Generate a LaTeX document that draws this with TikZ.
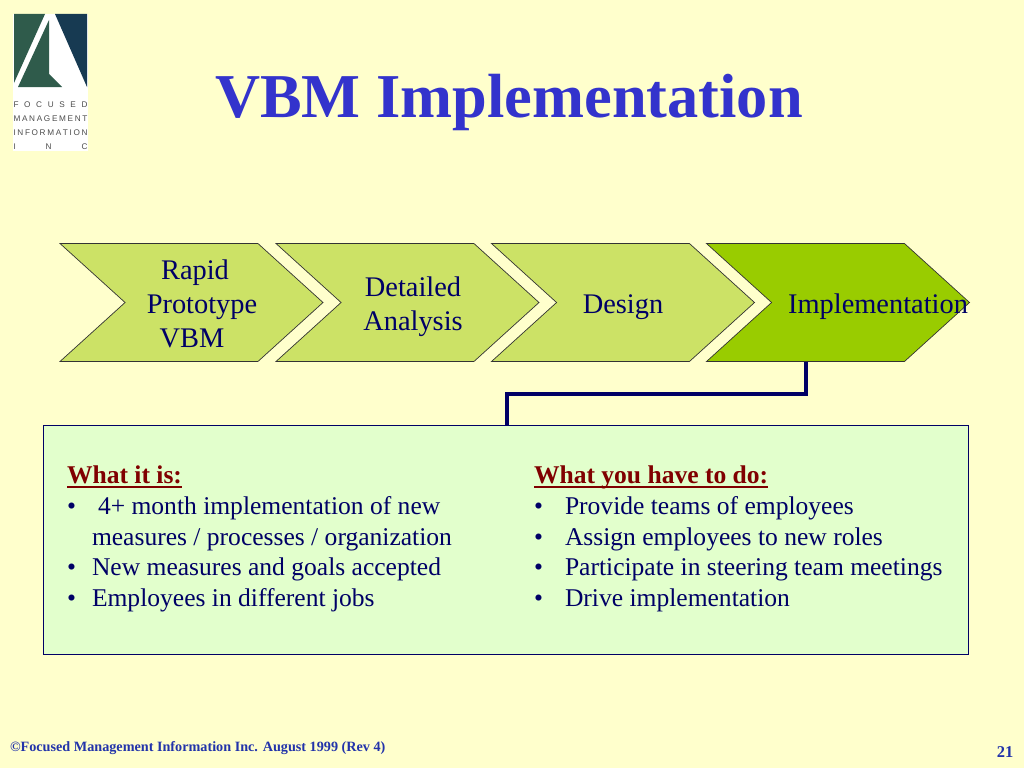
\documentclass[tikz,border=0pt]{standalone}
\usepackage{fontspec}
\setmainfont{Liberation Serif}
\newfontfamily\logofont{Liberation Sans}
\usetikzlibrary{shapes.symbols,positioning}
\definecolor{pagebg}{HTML}{FFFFCC}
\definecolor{stagefill}{HTML}{CCE266}
\definecolor{activefill}{HTML}{99CC00}
\definecolor{panelfill}{HTML}{E2FFCC}
\definecolor{inkblue}{HTML}{000066}
\definecolor{titleblue}{HTML}{3333CC}
\definecolor{footblue}{HTML}{2233AA}
\definecolor{headred}{HTML}{800000}
\definecolor{logogreen}{HTML}{2F5B4B}
\definecolor{logonavy}{HTML}{173A52}
\newcommand{\bodysize}{\fontsize{25.55}{30.7}\selectfont}
\newcommand{\headrule}[1]{\setbox0\hbox{#1}\rlap{#1}\rule[-4.5pt]{\wd0}{1.8pt}}
\newcommand{\logospread}[1]{\makebox[74pt][s]{#1}}

\begin{document}
\begin{tikzpicture}[x=1pt, y=-1pt,
    every node/.style={inner sep=0pt, outer sep=0pt, text=inkblue, font=\bodysize},
    stage/.style={signal, signal to=east, signal from=west, signal pointer angle=84.4, draw=black!80, line width=0.7pt, fill=stagefill, minimum width=263pt, minimum height=118pt},
    stagetext/.style={anchor=base, font=\fontsize{28.4}{34}\selectfont},
    bodyline/.style={anchor=base west},
    heading/.style={anchor=base west, text=headred, font=\bodysize\bfseries},
    logoline/.style={anchor=base, text=black!70, font=\logofont\fontsize{8.2}{9}\selectfont}
]
    \useasboundingbox (0,0) rectangle (1024,768);
    \fill [pagebg] (0,0) rectangle (1024,768);

    % Logo
    \fill [white] (13,14) rectangle (88,151);
    \fill [logogreen] (14,14) -- (45,14) -- (14,83) -- cycle;
    \fill [logogreen] (49,20) -- (49,74) -- (62,87) -- (18,87) -- cycle;
    \fill [logonavy] (55,14) -- (87,14) -- (87,87) -- cycle;
    \node [logoline] (focused) at (50.5,107) {\logospread{F\hfil O\hfil C\hfil U\hfil S\hfil E\hfil D}};
    \node [logoline] (management) at (50.5,121) {\logospread{M\hfil A\hfil N\hfil A\hfil G\hfil E\hfil M\hfil E\hfil N\hfil T}};
    \node [logoline] (information) at (50.5,135) {\logospread{I\hfil N\hfil F\hfil O\hfil R\hfil M\hfil A\hfil T\hfil I\hfil O\hfil N}};
    \node [logoline] (inc) at (50.5,149) {\logospread{I\hfil N\hfil C}};

    % Title
    \node (title) at (509,117) [anchor=base, text=titleblue, font=\fontsize{62.4}{70}\selectfont\bfseries] {VBM Implementation};

    % Stages
    \node (rapid) at (191.5,302.5) [stage] {};
    \node (detailed) at (407.5,302.5) [stage] {};
    \node (design) at (623,302.5) [stage] {};
    \node (implement) at (838,302.5) [stage, fill=activefill] {};

    \node at (195,279) [stagetext] {Rapid};
    \node at (202,313) [stagetext] {Prototype};
    \node at (192,347) [stagetext] {VBM};
    \node at (413,296) [stagetext] {Detailed};
    \node at (413,330) [stagetext] {Analysis};
    \node at (623,313) [stagetext] {Design};
    \node at (878,313) [stagetext] {Implementation};

    % Panel
    \node (panel) at (506,540) [draw=inkblue, line width=0.8pt, fill=panelfill, minimum width=925pt, minimum height=229pt] {};
    \coordinate (bend1) at (806,394);
    \coordinate (bend2) at (507,394);
    \draw [inkblue, line width=4pt] (implement.south -| bend1) -- (bend1) -- (bend2) -- (bend2 |- panel.north);

    % Left column
    \node (isHead) at (67,483) [heading] {\headrule{What it is:}};
    \node (isA) at (67,514) [bodyline] {•};
    \node at (98,514) [bodyline] {4+ month implementation of new};
    \node at (92,545) [bodyline] {measures / processes / organization};
    \node (isB) at (67,575) [bodyline] {•};
    \node at (92,575) [bodyline] {New measures and goals accepted};
    \node (isC) at (67,606) [bodyline] {•};
    \node at (92,606) [bodyline] {Employees in different jobs};

    % Right column
    \node (doHead) at (534,483) [heading] {\headrule{What you have to do:}};
    \node (doA) at (534,514) [bodyline] {•};
    \node at (565,514) [bodyline] {Provide teams of employees};
    \node (doB) at (534,545) [bodyline] {•};
    \node at (565,545) [bodyline] {Assign employees to new roles};
    \node (doC) at (534,575) [bodyline] {•};
    \node at (565,575) [bodyline] {Participate in steering team meetings};
    \node (doD) at (534,606) [bodyline] {•};
    \node at (565,606) [bodyline] {Drive implementation};

    % Footer
    \node (copy) at (10,751) [anchor=base west, text=footblue, font=\fontsize{14.2}{16}\selectfont\bfseries] {©Focused Management Information Inc. August 1999 (Rev 4)};
    \node (pageno) at (1005,757) [anchor=base, text=footblue, font=\fontsize{16.5}{18}\selectfont\bfseries] {21};
\end{tikzpicture}
\end{document}
